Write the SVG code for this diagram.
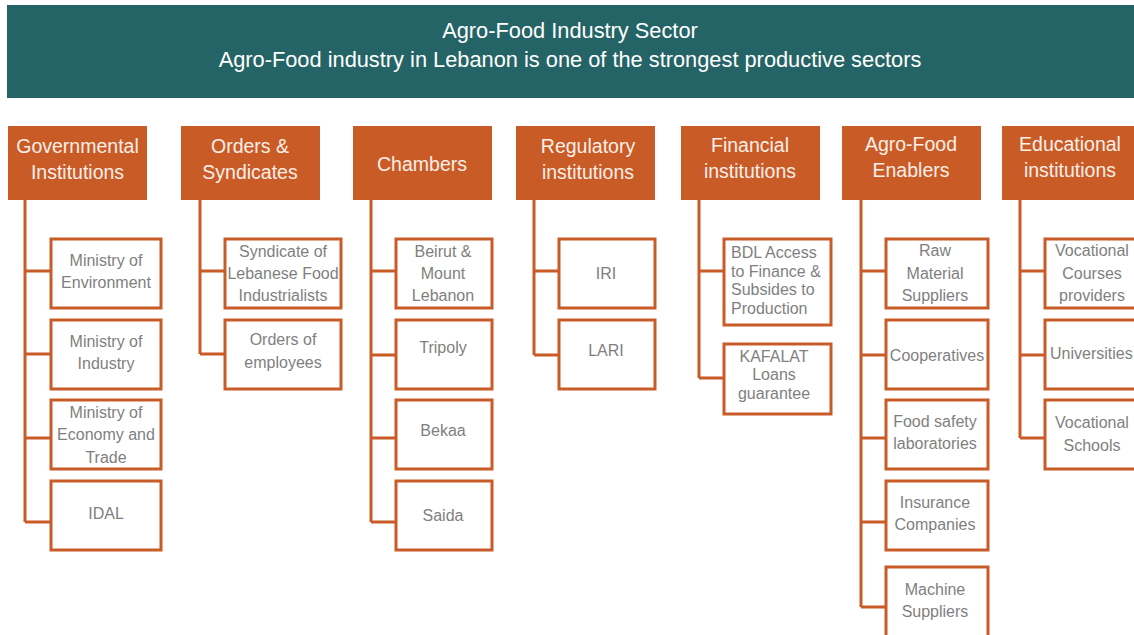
<svg xmlns="http://www.w3.org/2000/svg" width="1134" height="635" viewBox="0 0 1134 635">
<style>
.hdr{fill:#246466}
.top{fill:#C95B27}
.tt{font-family:"Liberation Sans",Arial,sans-serif;font-size:19.5px;fill:#FBEFE8;text-anchor:middle}
.ht{font-family:"Liberation Sans",Arial,sans-serif;font-size:21.8px;fill:#FFFFFF;text-anchor:middle}
.box{fill:#FFFFFF;stroke:#C95B27;stroke-width:3}
.ct{font-family:"Liberation Sans",Arial,sans-serif;font-size:16px;fill:#7F7F7F;text-anchor:middle}
.cl{font-family:"Liberation Sans",Arial,sans-serif;font-size:16px;fill:#7F7F7F}
.con{fill:none;stroke:#C95B27;stroke-width:3}
</style>
<rect width="1134" height="635" fill="#FFFFFF"/>
<g id="header">
<rect class="hdr" x="7" y="5" width="1135" height="93"/>
<text class="ht" x="570" y="38">Agro-Food Industry Sector</text>
<text class="ht" x="570" y="67">Agro-Food industry in Lebanon is one of the strongest productive sectors</text>
</g>
<g id="connectors">
<path class="con" d="M25,200V522M25,271H51M25,354H51M25,438H51M25,522H51"/>
<path class="con" d="M200,200V354M200,271H225M200,354H225"/>
<path class="con" d="M371,200V522M371,271H396M371,355H396M371,438H396M371,522H396"/>
<path class="con" d="M534,200V355M534,271H559M534,355H559"/>
<path class="con" d="M699,200V378M699,271H724M699,378H724"/>
<path class="con" d="M861,200V607M861,271H886M861,355H886M861,438H886M861,522H886M861,607H886"/>
<path class="con" d="M1020,200V438M1020,271H1045M1020,355H1045M1020,438H1045"/>
</g>
<g id="gov">
<rect class="top" x="8" y="126" width="139" height="74"/>
<text class="tt" x="77.5" y="153">Governmental</text>
<text class="tt" x="77.5" y="179">Institutions</text>
</g>
<g id="gov-env"><rect class="box" x="51" y="239" width="110" height="69"/><text class="ct" x="106" y="266">Ministry of</text><text class="ct" x="106" y="288">Environment</text></g>
<g id="gov-ind"><rect class="box" x="51" y="320" width="110" height="69"/><text class="ct" x="106" y="347">Ministry of</text><text class="ct" x="106" y="369">Industry</text></g>
<g id="gov-eco"><rect class="box" x="51" y="400" width="110" height="69"/><text class="ct" x="106" y="418">Ministry of</text><text class="ct" x="106" y="440">Economy and</text><text class="ct" x="106" y="463">Trade</text></g>
<g id="gov-idal"><rect class="box" x="51" y="481" width="110" height="69"/><text class="ct" x="106" y="519">IDAL</text></g>
<g id="orders">
<rect class="top" x="181" y="126" width="139" height="74"/>
<text class="tt" x="250" y="153">Orders &amp;</text>
<text class="tt" x="250" y="179">Syndicates</text>
</g>
<g id="ord-syn"><rect class="box" x="225" y="239" width="116" height="69"/><text class="ct" x="283" y="257">Syndicate of</text><text class="ct" x="283" y="279">Lebanese Food</text><text class="ct" x="283" y="301">Industrialists</text></g>
<g id="ord-emp"><rect class="box" x="225" y="320" width="116" height="69"/><text class="ct" x="283" y="345">Orders of</text><text class="ct" x="283" y="368">employees</text></g>
<g id="chambers">
<rect class="top" x="353" y="126" width="139" height="74"/>
<text class="tt" x="422" y="171">Chambers</text>
</g>
<g id="ch-beirut"><rect class="box" x="396" y="239" width="96" height="69"/><text class="ct" x="443" y="257">Beirut &amp;</text><text class="ct" x="443" y="279">Mount</text><text class="ct" x="443" y="301">Lebanon</text></g>
<g id="ch-tripoly"><rect class="box" x="396" y="320" width="96" height="69"/><text class="ct" x="443" y="353">Tripoly</text></g>
<g id="ch-bekaa"><rect class="box" x="396" y="400" width="96" height="69"/><text class="ct" x="443" y="436">Bekaa</text></g>
<g id="ch-saida"><rect class="box" x="396" y="481" width="96" height="69"/><text class="ct" x="443" y="521">Saida</text></g>
<g id="regulatory">
<rect class="top" x="516" y="126" width="139" height="74"/>
<text class="tt" x="588" y="153">Regulatory</text>
<text class="tt" x="588" y="179">institutions</text>
</g>
<g id="reg-iri"><rect class="box" x="559" y="239" width="96" height="69"/><text class="ct" x="606" y="279">IRI</text></g>
<g id="reg-lari"><rect class="box" x="559" y="320" width="96" height="69"/><text class="ct" x="606" y="356">LARI</text></g>
<g id="financial">
<rect class="top" x="681" y="126" width="139" height="74"/>
<text class="tt" x="750" y="152">Financial</text>
<text class="tt" x="750" y="178">institutions</text>
</g>
<g id="fin-bdl"><rect class="box" x="724" y="239" width="107" height="86"/><text class="cl" x="731" y="258">BDL Access</text><text class="cl" x="731" y="277">to Finance &amp;</text><text class="cl" x="731" y="295">Subsides to</text><text class="cl" x="731" y="314">Production</text></g>
<g id="fin-kafalat"><rect class="box" x="724" y="344" width="107" height="70"/><text class="ct" x="774" y="362">KAFALAT</text><text class="ct" x="774" y="380">Loans</text><text class="ct" x="774" y="399">guarantee</text></g>
<g id="enablers">
<rect class="top" x="842" y="126" width="139" height="74"/>
<text class="tt" x="911" y="151">Agro-Food</text>
<text class="tt" x="911" y="177">Enablers</text>
</g>
<g id="en-raw"><rect class="box" x="886" y="239" width="102" height="69"/><text class="ct" x="935" y="256">Raw</text><text class="ct" x="935" y="279">Material</text><text class="ct" x="935" y="301">Suppliers</text></g>
<g id="en-coop"><rect class="box" x="886" y="320" width="102" height="69"/><text class="ct" x="937" y="361">Cooperatives</text></g>
<g id="en-lab"><rect class="box" x="886" y="400" width="102" height="69"/><text class="ct" x="935" y="427">Food safety</text><text class="ct" x="935" y="449">laboratories</text></g>
<g id="en-ins"><rect class="box" x="886" y="481" width="102" height="69"/><text class="ct" x="935" y="508">Insurance</text><text class="ct" x="935" y="530">Companies</text></g>
<g id="en-mach"><rect class="box" x="886" y="567" width="102" height="80"/><text class="ct" x="935" y="595">Machine</text><text class="ct" x="935" y="617">Suppliers</text></g>
<g id="educational">
<rect class="top" x="1002" y="126" width="145" height="74"/>
<text class="tt" x="1070" y="151">Educational</text>
<text class="tt" x="1070" y="177">institutions</text>
</g>
<g id="ed-voc"><rect class="box" x="1045" y="239" width="100" height="69"/><text class="ct" x="1092" y="256">Vocational</text><text class="ct" x="1092" y="279">Courses</text><text class="ct" x="1092" y="301">providers</text></g>
<g id="ed-uni"><rect class="box" x="1045" y="320" width="100" height="69"/><text class="cl" x="1050" y="359">Universities</text></g>
<g id="ed-vs"><rect class="box" x="1045" y="400" width="100" height="69"/><text class="ct" x="1092" y="428">Vocational</text><text class="ct" x="1092" y="451">Schools</text></g>
</svg>
